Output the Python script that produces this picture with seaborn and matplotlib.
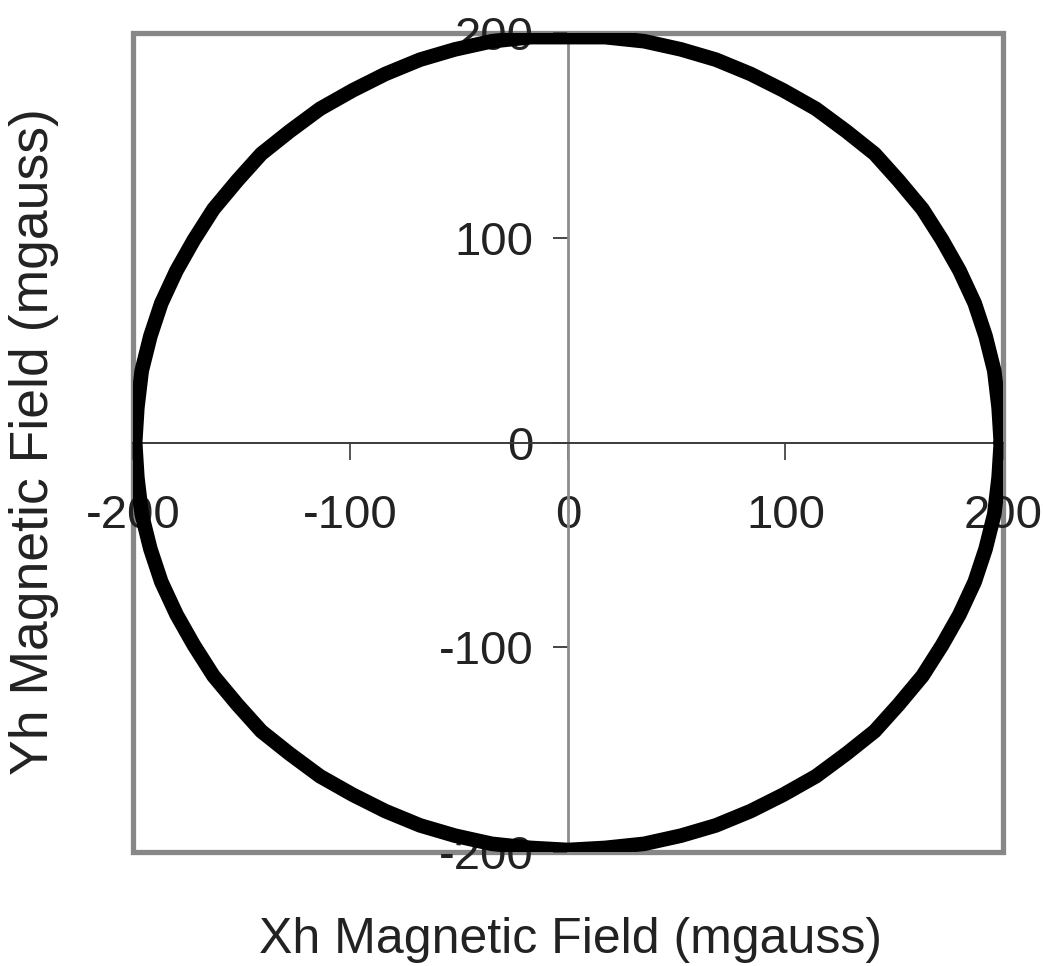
import matplotlib
matplotlib.use("Agg")
import matplotlib.pyplot as plt
from matplotlib.patches import Rectangle
import seaborn as sns
import pandas as pd

# Horizontal-plane field components sampled every 5 degrees of heading
xh = [199, 198, 196, 192, 187, 180, 172, 163, 152, 141, 128, 114, 99, 84, 68, 52, 35, 17,
      0, -17, -35, -52, -68, -84, -99, -114, -128, -141, -152, -163, -172, -180, -187, -192, -196, -198,
      -199, -198, -196, -192, -187, -180, -172, -163, -152, -141, -128, -114, -99, -84, -68, -52, -35, -17,
      0, 17, 35, 52, 68, 84, 99, 114, 128, 141, 152, 163, 172, 180, 187, 192, 196, 198, 199]
yh = [0, 17, 35, 52, 68, 84, 99, 114, 128, 141, 152, 163, 172, 180, 187, 192, 196, 198,
      198, 198, 196, 192, 187, 180, 172, 163, 152, 141, 128, 114, 99, 84, 68, 52, 35, 17,
      0, -17, -35, -52, -68, -84, -99, -114, -128, -141, -152, -163, -172, -180, -187, -192, -196, -198,
      -199, -198, -196, -192, -187, -180, -172, -163, -152, -141, -128, -114, -99, -84, -68, -52, -35, -17, 0]

x_ticks = [-200, -100, 0, 100, 200]
y_ticks = [-200, -100, 0, 100, 200]
x_label = "Xh Magnetic Field (mgauss)"
y_label = "Yh Magnetic Field (mgauss)"

df = pd.DataFrame({"Xh": xh, "Yh": yh})

sns.set_theme(style="white")
plt.rcParams["font.family"] = ["Liberation Sans", "DejaVu Sans"]
plt.rcParams["axes.unicode_minus"] = False

fig = plt.figure(figsize=(10.44, 9.66), dpi=100)
ax = fig.add_axes([0.1274, 0.118, 0.8333, 0.8478])

sns.lineplot(data=df, x="Xh", y="Yh", sort=False, estimator=None,
             color="black", linewidth=10.5, ax=ax)
for ln in ax.lines:
    ln.set_solid_joinstyle("round")
    ln.set_solid_capstyle("round")

ax.set_xlim(-200, 200)
ax.set_ylim(-200, 200)

# Axis lines cross at the origin
ax.spines["left"].set_position(("data", 0))
ax.spines["bottom"].set_position(("data", 0))
ax.spines["left"].set_color("#8c8c8c")
ax.spines["left"].set_linewidth(2.0)
ax.spines["bottom"].set_color("#3a3a3a")
ax.spines["bottom"].set_linewidth(1.4)
ax.spines["top"].set_visible(False)
ax.spines["right"].set_visible(False)
ax.spines["left"].set_zorder(1)
ax.spines["bottom"].set_zorder(1)

# Outer plot frame
ax.add_patch(Rectangle((0, 0), 1, 1, transform=ax.transAxes, fill=False,
                       edgecolor="#878787", linewidth=3.8, clip_on=False, zorder=0))

ax.set_xticks(x_ticks)
ax.set_yticks(y_ticks)
ax.set_xticklabels([str(v) for v in x_ticks])
ax.set_yticklabels([str(v) for v in y_ticks])
ax.tick_params(axis="x", direction="out", length=12, width=1.4, color="#555555",
               pad=25, labelsize=34, labelcolor="#222222", bottom=True)
ax.tick_params(axis="y", direction="out", length=11, width=1.4, color="#444444",
               pad=14, labelsize=34, labelcolor="#222222", left=True)

ax.set_xlabel("")
ax.set_ylabel("")
fig.text(0.546, 0.027, x_label, ha="center", va="center", fontsize=36, color="#222222")
fig.text(0.033, 0.543, y_label, ha="center", va="center", rotation=90, fontsize=38.5, color="#222222")

fig.savefig("out.png", dpi=100)
